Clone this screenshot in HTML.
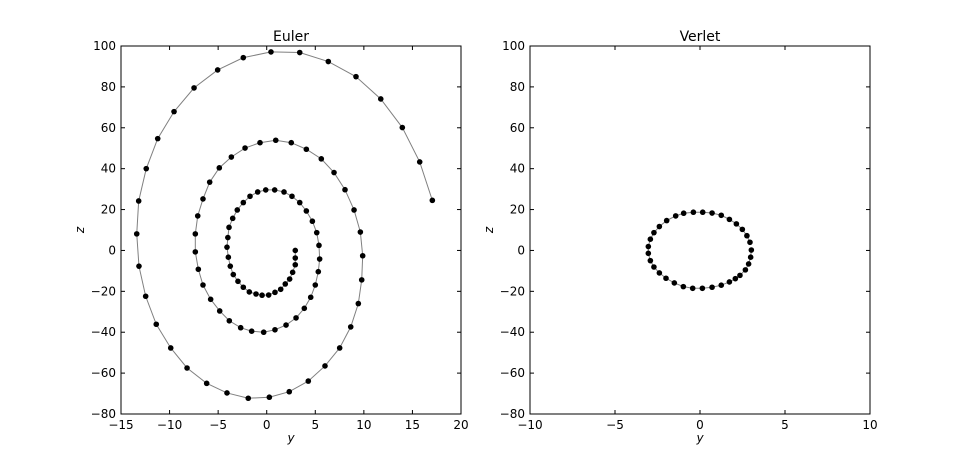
<!DOCTYPE html>
<html><head><meta charset="utf-8"><style>
html,body{margin:0;padding:0;background:#fff}
svg{display:block}
text{font-family:"DejaVu Sans","Liberation Sans",sans-serif}
</style></head><body>
<svg id="fig" width="968" height="461" viewBox="0 0 968 461" xmlns="http://www.w3.org/2000/svg"></svg>
<script>
const eulerY=[2.94,2.94,2.94,2.67,2.36,1.91,1.44,0.85,0.2,-0.48,-1.1,-1.79,-2.41,-2.96,-3.44,-3.75,-3.95,-4.09,-4.0,-3.88,-3.5,-3.03,-2.41,-1.72,-0.93,-0.1,0.82,1.78,2.6,3.4,4.08,4.7,5.15,5.38,5.45,5.31,5.0,4.53,3.87,3.02,1.99,0.85,-0.31,-1.55,-2.68,-3.85,-4.84,-5.77,-6.56,-7.04,-7.35,-7.35,-7.1,-6.56,-5.87,-4.88,-3.64,-2.23,-0.69,0.93,2.53,4.08,5.62,6.93,8.06,8.99,9.64,9.88,9.78,9.43,8.65,7.51,6.0,4.28,2.32,0.27,-1.9,-4.09,-6.18,-8.2,-9.88,-11.37,-12.46,-13.15,-13.38,-13.18,-12.4,-11.22,-9.54,-7.48,-5.05,-2.41,0.44,3.4,6.34,9.19,11.74,13.96,15.75,17.05];
const eulerZ=[0,-3.7,-7,-10.7,-14,-16.4,-19,-20.5,-21.8,-21.9,-21.3,-20.3,-18,-15.1,-11.8,-7.7,-3.3,1.6,6.3,11.3,15.7,19.8,23.4,26.5,28.6,29.6,29.6,28.6,26.5,23.4,19.3,14.3,8.7,2.5,-4.2,-10.4,-16.9,-22.9,-28.3,-33,-36.5,-38.8,-40,-39.5,-37.8,-34.4,-29.6,-23.9,-16.9,-9.2,-0.7,8.1,16.9,25.2,33.4,40.4,45.7,50.1,52.7,53.9,52.7,49.5,44.8,38.1,29.7,19.8,9,-2.6,-14.4,-26,-37.4,-47.7,-56.5,-63.9,-69.1,-71.8,-72.3,-69.7,-65,-57.5,-47.7,-36.1,-22.4,-7.7,8.1,24.2,40,54.7,67.9,79.5,88.3,94.3,97.1,96.8,92.4,85,74.1,60.1,43.3,24.5];
const verletY=[3.02,2.98,2.86,2.67,2.35,2.08,1.73,1.25,0.71,0.14,-0.43,-0.98,-1.51,-2.0,-2.39,-2.71,-2.92,-3.04,-3.04,-2.92,-2.71,-2.39,-1.96,-1.43,-0.96,-0.39,0.16,0.71,1.25,1.73,2.14,2.49,2.76,2.94];
const verletZ=[0.2,-3.3,-6.6,-9.5,-12.2,-13.8,-15.4,-17.0,-18.0,-18.5,-18.5,-17.7,-15.9,-13.6,-11.0,-8.1,-5.0,-1.4,1.9,5.5,8.7,11.7,14.6,16.9,18.2,18.7,18.7,18.3,17.2,15.2,13.0,10.3,7.2,4.0];
const leftXTicks=[-15,-10,-5,0,5,10,15,20];
const rightXTicks=[-10,-5,0,5,10];
const zTicks=[-80,-60,-40,-20,0,20,40,60,80,100];

const NS="http://www.w3.org/2000/svg";
const svg=document.getElementById('fig');
function mk(tag,attrs,parent){const e=document.createElementNS(NS,tag);for(const k in attrs)e.setAttribute(k,attrs[k]);(parent||svg).appendChild(e);return e;}

function panel(name,x0,x1,xmin,xmax,xticks,ys,zs,title){
  const top=46,bot=414,zmin=-80,zmax=100;
  const sx=v=>x0+(v-xmin)/(xmax-xmin)*(x1-x0);
  const sy=v=>bot-(v-zmin)/(zmax-zmin)*(bot-top);
  const g=mk('g',{});
  
  
  let d='';
  for(let i=0;i<ys.length;i++)d+=(i?'L':'M')+sx(ys[i]).toFixed(2)+' '+sy(zs[i]).toFixed(2);
  const line=mk('path',{d:d,fill:'none',stroke:'#808080','stroke-width':1},g);
  
  
  for(let i=0;i<ys.length;i++){
    const c=mk('circle',{cx:sx(ys[i]),cy:sy(zs[i]),r:2.8,fill:'#000'},g);
    
    
  }
  const fr=mk('rect',{x:x0,y:top,width:x1-x0,height:bot-top,fill:'none',stroke:'#000','stroke-width':1},g);
  
  
  xticks.forEach(t=>{
    const x=sx(t);
    mk('line',{x1:x,x2:x,y1:bot,y2:bot-4,stroke:'#000'},g);
    mk('line',{x1:x,x2:x,y1:top,y2:top+4,stroke:'#000'},g);
    const tx=mk('text',{x:x,y:bot+15,'font-size':12,'text-anchor':'middle'},g);
    tx.textContent=t<0?'\u2212'+(-t):String(t);
    
    
  });
  zTicks.forEach(t=>{
    const y=sy(t);
    mk('line',{x1:x0,x2:x0+4,y1:y,y2:y,stroke:'#000'},g);
    mk('line',{x1:x1,x2:x1-4,y1:y,y2:y,stroke:'#000'},g);
    const tx=mk('text',{x:x0-5,y:y+4,'font-size':12,'text-anchor':'end'},g);
    tx.textContent=t<0?'\u2212'+(-t):String(t);
    
    
  });
  const ti=mk('text',{x:(x0+x1)/2,y:41,'font-size':14,'text-anchor':'middle'},g);
  ti.textContent=title;
  
  
  const xl=mk('text',{x:(x0+x1)/2,y:442,'font-size':12,'text-anchor':'middle','font-style':'italic','font-family':'Liberation Serif, serif'},g);
  xl.textContent='y';
  
  
  const zl=mk('text',{x:0,y:0,'font-size':12,'text-anchor':'middle','font-style':'italic','font-family':'Liberation Serif, serif',transform:'translate('+(x0-37)+','+((top+bot)/2)+') rotate(-90)'},g);
  zl.textContent='z';
  
  
}
panel('euler',121,461,-15,20,leftXTicks,eulerY,eulerZ,'Euler');
panel('verlet',530,870,-10,10,rightXTicks,verletY,verletZ,'Verlet');
</script>
</body></html>
